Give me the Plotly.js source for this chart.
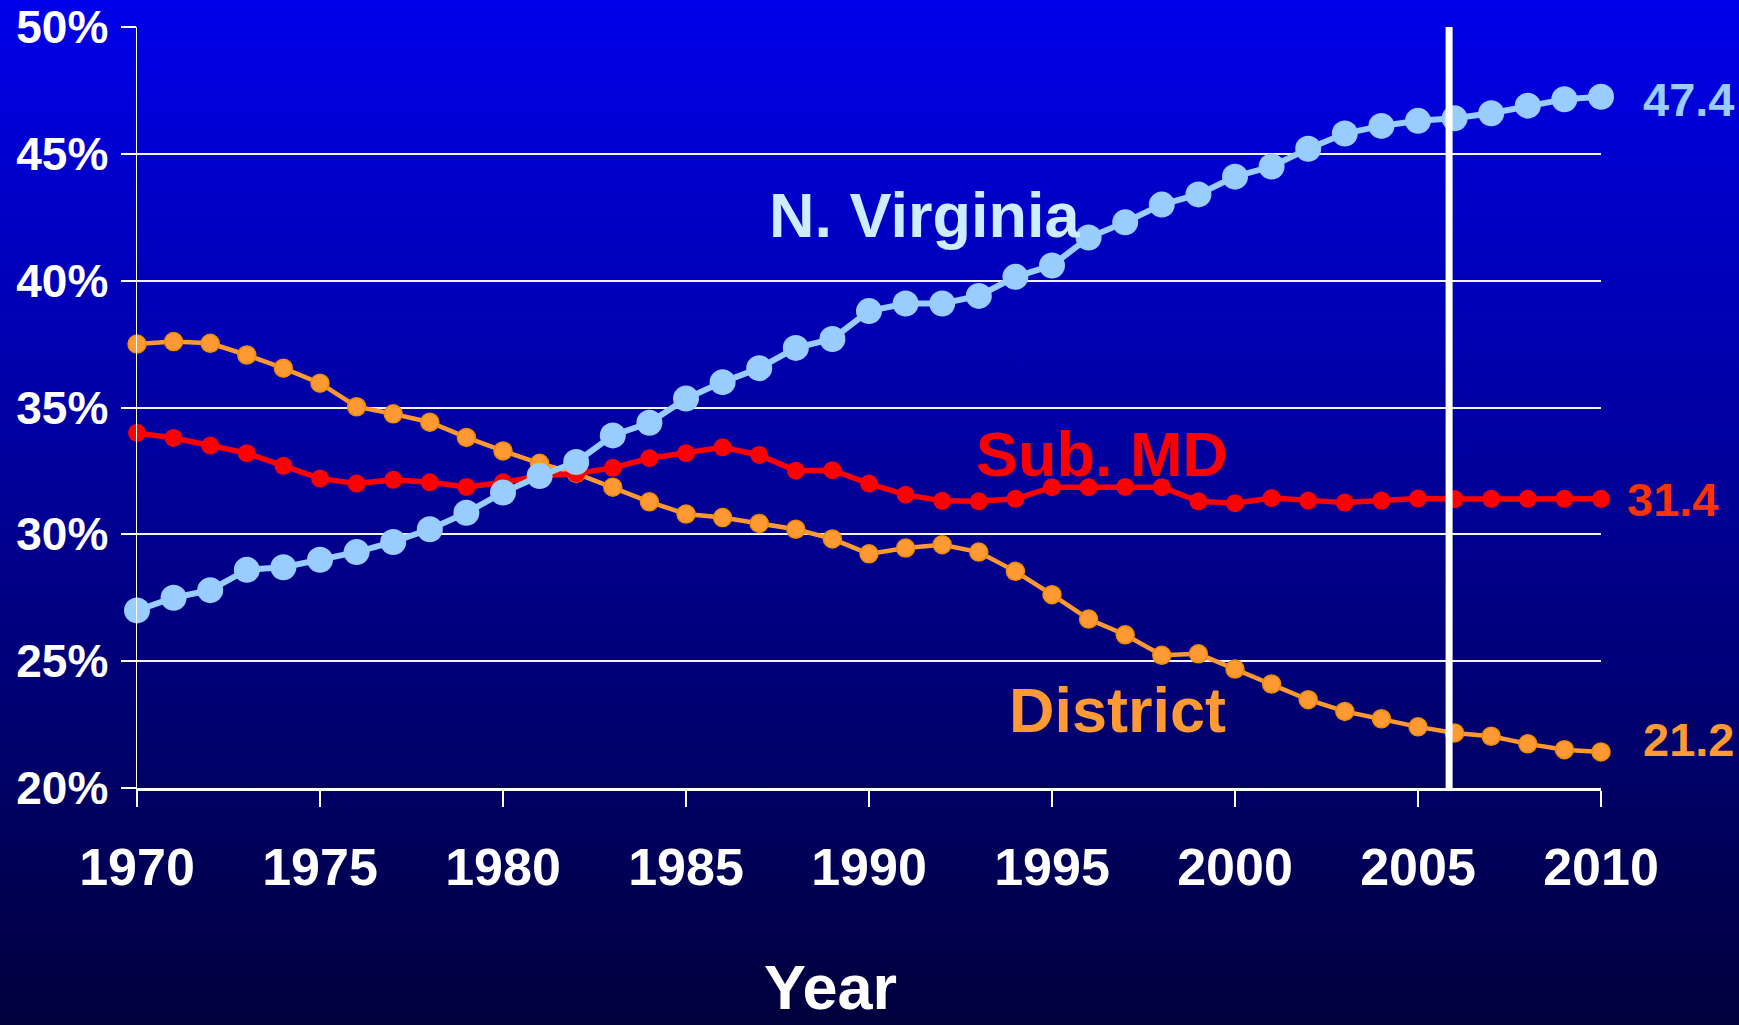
<!DOCTYPE html>
<html><head><meta charset="utf-8">
<script src="https://cdn.plot.ly/plotly-3.0.1.min.js"></script>
<style>
html,body{margin:0;padding:0;width:1739px;height:1025px;overflow:hidden;
background:linear-gradient(to bottom, rgb(0,0,234) 0%, rgb(0,0,60) 100%);}
#chart{width:1739px;height:1025px;}
</style></head><body><div id="chart"></div>
<script>
const years = [1970,1971,1972,1973,1974,1975,1976,1977,1978,1979,
  1980,1981,1982,1983,1984,1985,1986,1987,1988,1989,
  1990,1991,1992,1993,1994,1995,1996,1997,1998,1999,
  2000,2001,2002,2003,2004,2005,2006,2007,2008,2009,2010];
const nVirginia = [27.0,27.5,27.8,28.6,28.7,29.0,29.3,29.7,30.2,30.85,
  31.65,32.3,32.85,33.9,34.4,35.35,36.0,36.55,37.35,37.7,
  38.8,39.1,39.1,39.4,40.15,40.6,41.7,42.3,43.0,43.4,
  44.1,44.5,45.2,45.8,46.1,46.3,46.4,46.6,46.9,47.15,47.25];
const subMD = [34.0,33.8,33.5,33.2,32.7,32.2,32.0,32.15,32.05,31.87,
  32.05,32.3,32.4,32.62,33.0,33.2,33.43,33.13,32.51,32.53,
  32.0,31.56,31.32,31.3,31.4,31.86,31.86,31.87,31.86,31.3,
  31.23,31.43,31.33,31.25,31.33,31.41,31.39,31.4,31.4,31.4,31.4];
const district = [37.5,37.6,37.53,37.07,36.55,35.96,35.03,34.75,34.42,33.82,
  33.29,32.8,32.4,31.86,31.28,30.8,30.66,30.43,30.2,29.82,
  29.23,29.46,29.59,29.3,28.54,27.62,26.66,26.04,25.23,25.29,
  24.69,24.1,23.48,23.02,22.73,22.41,22.17,22.04,21.74,21.51,21.42];
const seriesNames = ["N. Virginia","Sub. MD","District"];
const endLabels = ["47.4","31.4","21.2"];
const xTickVals = [1970,1975,1980,1985,1990,1995,2000,2005,2010];
const yTickVals = [20,25,30,35,40,45,50];
const yTickText = ["20%","25%","30%","35%","40%","45%","50%"];
const markerYear = 2005.85;
const xTitle = "Year";

const FONT = "'Liberation Sans', Arial, sans-serif";
const cBlue = "#99CCFF", cRed = "#FF0000", cOrange = "#FF9933";

const traces = [
  {x: years, y: district, name: seriesNames[2], type: "scatter", mode: "lines+markers",
   line: {color: cOrange, width: 4.5}, cliponaxis: false,
   marker: {color: cOrange, size: 18, line: {color: "#F08C00", width: 1.5}}},
  {x: years, y: subMD, name: seriesNames[1], type: "scatter", mode: "lines+markers",
   line: {color: cRed, width: 5.5}, cliponaxis: false,
   marker: {color: cRed, size: 18}},
  {x: years, y: nVirginia, name: seriesNames[0], type: "scatter", mode: "lines+markers",
   line: {color: cBlue, width: 6}, cliponaxis: false,
   marker: {color: cBlue, size: 26}},
  {x: [markerYear, markerYear], y: [20, 50.2], type: "scatter", mode: "lines",
   line: {color: "#FFFFFF", width: 7}, cliponaxis: false, hoverinfo: "skip", showlegend: false}
];

const lastIdx = years.length - 1;
const annotations = [
  {x: 1987.2, y: 42.6, xref: "x", yref: "y", text: seriesNames[0], showarrow: false, xanchor: "left", yanchor: "middle",
   font: {family: FONT, size: 63, color: "#CCECFF", weight: "bold"}},
  {x: 1992.87, y: 33.17, xref: "x", yref: "y", text: seriesNames[1], showarrow: false, xanchor: "left", yanchor: "middle",
   font: {family: FONT, size: 63, color: cRed, weight: "bold"}},
  {x: 1993.76, y: 23.09, xref: "x", yref: "y", text: seriesNames[2], showarrow: false, xanchor: "left", yanchor: "middle",
   font: {family: FONT, size: 63, color: cOrange, weight: "bold"}},
  {x: years[lastIdx], y: nVirginia[lastIdx], xref: "x", yref: "y", text: endLabels[0], showarrow: false,
   xanchor: "left", yanchor: "middle", xshift: 40, yshift: -3,
   font: {family: FONT, size: 47, color: cBlue, weight: "bold"}},
  {x: years[lastIdx], y: subMD[lastIdx], xref: "x", yref: "y", text: endLabels[1], showarrow: false,
   xanchor: "left", yanchor: "middle", xshift: 24, yshift: -1,
   font: {family: FONT, size: 47, color: "#FF3300", weight: "bold"}},
  {x: years[lastIdx], y: district[lastIdx], xref: "x", yref: "y", text: endLabels[2], showarrow: false,
   xanchor: "left", yanchor: "middle", xshift: 40, yshift: 12,
   font: {family: FONT, size: 47, color: cOrange, weight: "bold"}},
  {x: 0.4735, y: -0.262, xref: "paper", yref: "paper", text: xTitle, showarrow: false,
   xanchor: "center", yanchor: "middle",
   font: {family: FONT, size: 63, color: "#FFFFFF", weight: "bold"}}
];

const layout = {
  width: 1739, height: 1025,
  margin: {l: 137, r: 138, t: 27, b: 237, pad: 0},
  paper_bgcolor: "rgba(0,0,0,0)", plot_bgcolor: "rgba(0,0,0,0)",
  showlegend: false,
  font: {family: FONT, color: "#FFFFFF"},
  xaxis: {range: [1970, 2010], tickmode: "array", tickvals: xTickVals,
    ticks: "outside", ticklen: 16, tickwidth: 1.5, tickcolor: "#FFFFFF",
    showline: true, linecolor: "#FFFFFF", linewidth: 2.5,
    showgrid: false, zeroline: false, ticklabelstandoff: 16,
    tickfont: {family: FONT, size: 52, color: "#FFFFFF", weight: "bold"}},
  yaxis: {range: [20, 50], tickmode: "array", tickvals: yTickVals, ticktext: yTickText,
    ticks: "outside", ticklen: 15, tickwidth: 2, tickcolor: "#FFFFFF",
    showline: true, linecolor: "#FFFFFF", linewidth: 1.5,
    showgrid: true, gridcolor: "#F2F2F8", gridwidth: 2, zeroline: false,
    ticklabelstandoff: 3,
    tickfont: {family: FONT, size: 46, color: "#FFFFFF", weight: "bold"}},
  annotations: annotations
};

Plotly.newPlot("chart", traces, layout, {displayModeBar: false, staticPlot: true});
</script></body></html>
